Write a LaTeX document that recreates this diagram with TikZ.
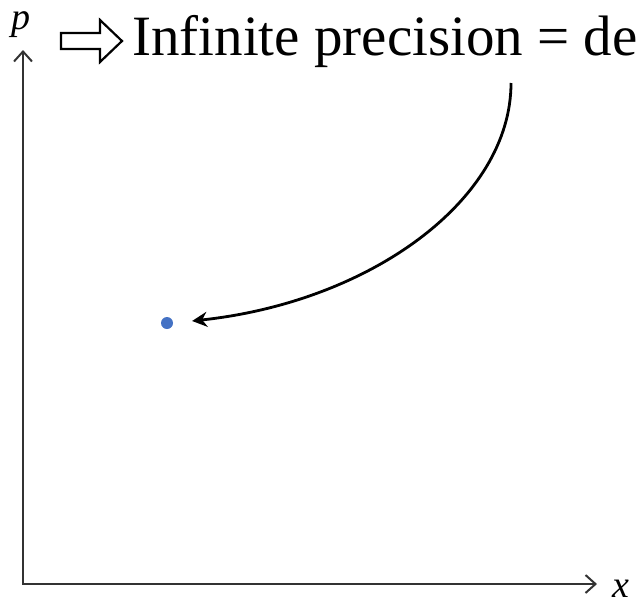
\documentclass[tikz,border=0pt]{standalone}
\usepackage{fontspec}
\setmainfont{Liberation Serif}
\usepackage{xcolor}
\definecolor{cAxis}{HTML}{333333}
\definecolor{cDot}{HTML}{4472C4}
\usetikzlibrary{positioning,arrows.meta}
\tikzset{
  axis-line/.style={line width=2.6pt,draw=cAxis,
    {Straight Barb[length=10pt,width=18pt,line width=2pt]}-{Straight Barb[length=10pt,width=18pt,line width=2pt]}},
  axis-label/.style={font=\fontsize{38}{42}\selectfont\itshape,inner sep=0pt},
  head-text/.style={font=\fontsize{57}{60}\selectfont,inner sep=0pt,anchor=base west},
  implies-arrow/.style={draw=black,line width=2.2pt,fill=white,line join=miter},
  point-dot/.style={circle,fill=cDot,minimum size=12pt,inner sep=0pt},
  pointer-arrow/.style={-{Stealth[length=15pt,width=15pt]},line width=2.8pt,draw=black},
}
\begin{document}
\begin{tikzpicture}[x=1pt,y=-1pt]
  \useasboundingbox (0,0) rectangle (636,603);
  \clip (0,0) rectangle (636,603);
  % axes
  \coordinate (origin) at (23,584);
  \coordinate (ytip)   at (23,50);
  \coordinate (xtip)   at (597,584);
  \draw[axis-line] (ytip) -- (origin) -- (xtip);
  \node[axis-label,anchor=base] (plabel) at (21,29)  {p};
  \node[axis-label,anchor=base] (xlabel) at (621,597) {x};
  % headline
  \coordinate (imp) at (61,41);
  \draw[implies-arrow] (imp) ++(0,-8) -- ++(39,0) -- ++(0,-13) -- ++(22,21)
    -- ++(-22,21) -- ++(0,-13) -- ++(-39,0) -- cycle;
  \node[head-text] (head) at (132,55) {Infinite precision = de};
  % the single state
  \node[point-dot] (dot) at (167,323) {};
  \coordinate (arc-start) at (511,83);
  \draw[pointer-arrow,shorten >=19pt] (arc-start) .. controls (511,200) and (370,302) .. (dot.east);
\end{tikzpicture}
\end{document}
